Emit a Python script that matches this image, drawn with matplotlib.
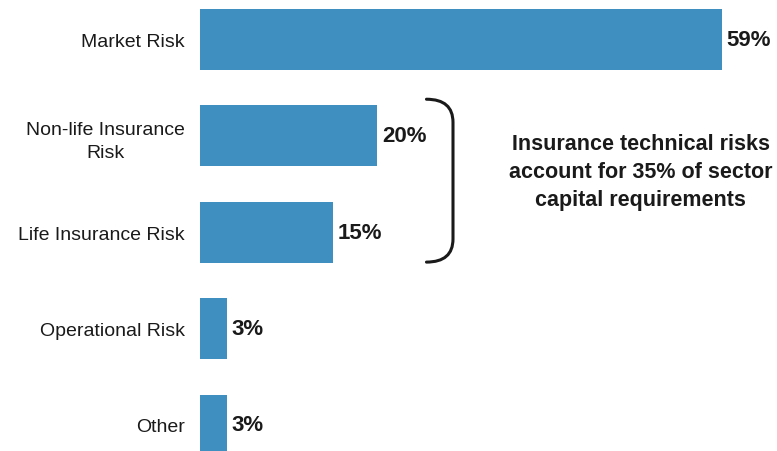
import matplotlib
matplotlib.use("Agg")
import matplotlib.pyplot as plt
from matplotlib.path import Path
from matplotlib.patches import PathPatch

plt.rcParams['font.family'] = ['Liberation Sans', 'DejaVu Sans']

categories = ["Market Risk", "Non-life Insurance\nRisk", "Life Insurance Risk",
              "Operational Risk", "Other"]
shares = [59, 20, 15, 3, 3]
value_labels = ["59%", "20%", "15%", "3%", "3%"]
note = "Insurance technical risks\naccount for 35% of sector\ncapital requirements"

bar_color = "#3f8fc0"
text_color = "#1a1a1a"

fig = plt.figure(figsize=(7.77, 4.52), dpi=100)
ax = fig.add_axes([200 / 777, 0, 575 / 777, 1])

ypos = list(range(len(categories)))
ax.barh(ypos, shares, height=0.63, color=bar_color)

ax.set_xlim(0, 65)
ax.set_ylim(4.27, -0.42)

ax.set_yticks(ypos)
ax.set_yticklabels(categories, fontsize=14, color=text_color,
                   multialignment="center", linespacing=1.45)
ax.tick_params(axis="y", length=0, pad=11)
ax.set_xticks([])
for s in ax.spines.values():
    s.set_visible(False)

for y, v, lab in zip(ypos, shares, value_labels):
    ax.text(v + 0.55, y, lab, va="center", ha="left", fontsize=16,
            fontweight="bold", color=text_color)

# Curly bracket grouping the two insurance technical risks
x0, x1 = 25.6, 28.6
top, bot = 1 - 0.38, 2 + 0.31
r = 0.12
verts = [(x0, top), (x1, top), (x1, top + r * 2), (x1, bot - r * 2),
         (x1, bot), (x0, bot)]
codes = [Path.MOVETO, Path.CURVE3, Path.CURVE3, Path.LINETO,
         Path.CURVE3, Path.CURVE3]
ax.add_patch(PathPatch(Path(verts, codes), fill=False, lw=2.2,
                       edgecolor=text_color, capstyle="round"))

ax.text(49.8, 1.37, note, ha="center", va="center", fontsize=15.5,
        fontweight="bold", color=text_color, linespacing=1.42)

fig.savefig("out.png", dpi=100)
